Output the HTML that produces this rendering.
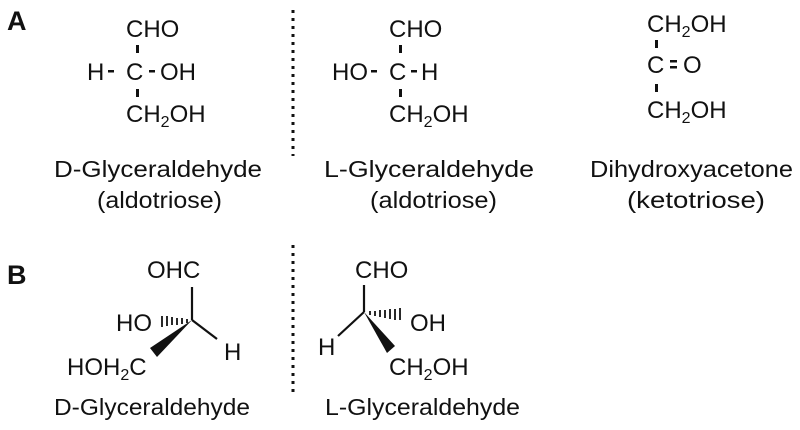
<!DOCTYPE html>
<html><head><style>html,body{margin:0;padding:0;background:#fff}svg{display:block}text{font-family:"Liberation Sans",sans-serif;fill:#111}</style></head>
<body>
<svg width="800" height="430" viewBox="0 0 800 430" xmlns="http://www.w3.org/2000/svg">
<g font-size="24">
<text x="7" y="30" font-weight="bold" font-size="27">A</text>
<text x="7" y="284" font-weight="bold" font-size="27">B</text>

<!-- D Fischer -->
<text x="126" y="37">CHO</text>
<text x="87" y="80">H</text>
<rect x="108" y="70" width="6" height="2.5" fill="#111"/>
<text x="126" y="80">C</text>
<rect x="149" y="70" width="6" height="2.5" fill="#111"/>
<text x="160" y="80">OH</text>
<rect x="136" y="45" width="3" height="8" fill="#111"/>
<rect x="136" y="89" width="3" height="8" fill="#111"/>
<text x="126" y="122">CH<tspan font-size="16" dy="5">2</tspan><tspan dy="-5">OH</tspan></text>
<text x="54" y="177" font-size="23" textLength="208" lengthAdjust="spacingAndGlyphs">D-Glyceraldehyde</text>
<text x="97" y="208" font-size="23" textLength="125" lengthAdjust="spacingAndGlyphs">(aldotriose)</text>

<line x1="293" y1="10" x2="293" y2="156" stroke="#111" stroke-width="3" stroke-dasharray="3,5"/>

<!-- L Fischer -->
<text x="389" y="37">CHO</text>
<text x="332" y="80">HO</text>
<rect x="371" y="70" width="6" height="2.5" fill="#111"/>
<text x="389" y="80">C</text>
<rect x="411" y="70" width="6" height="2.5" fill="#111"/>
<text x="421" y="80">H</text>
<rect x="399" y="45" width="3" height="8" fill="#111"/>
<rect x="399" y="89" width="3" height="8" fill="#111"/>
<text x="389" y="122">CH<tspan font-size="16" dy="5">2</tspan><tspan dy="-5">OH</tspan></text>
<text x="324" y="177" font-size="23" textLength="210" lengthAdjust="spacingAndGlyphs">L-Glyceraldehyde</text>
<text x="370" y="208" font-size="23" textLength="127" lengthAdjust="spacingAndGlyphs">(aldotriose)</text>

<!-- Dihydroxyacetone -->
<text x="647" y="32">CH<tspan font-size="16" dy="5">2</tspan><tspan dy="-5">OH</tspan></text>
<rect x="655" y="40" width="3" height="8" fill="#111"/>
<text x="647" y="73">C</text>
<rect x="670" y="60" width="7" height="2.5" fill="#111"/>
<rect x="670" y="66" width="7" height="2.5" fill="#111"/>
<text x="683" y="73">O</text>
<rect x="655" y="84" width="3" height="8" fill="#111"/>
<text x="647" y="118">CH<tspan font-size="16" dy="5">2</tspan><tspan dy="-5">OH</tspan></text>
<text x="590" y="177" font-size="23" textLength="203" lengthAdjust="spacingAndGlyphs">Dihydroxyacetone</text>
<text x="627" y="208" font-size="23" textLength="138" lengthAdjust="spacingAndGlyphs">(ketotriose)</text>

<line x1="293" y1="245" x2="293" y2="392" stroke="#111" stroke-width="3" stroke-dasharray="3,5"/>

<!-- D wedge -->
<text x="147" y="278">OHC</text>
<line x1="192" y1="287" x2="192" y2="320" stroke="#111" stroke-width="2.2"/>
<line x1="192" y1="320" x2="217" y2="339" stroke="#111" stroke-width="2.2"/>
<text x="224" y="360">H</text>
<g stroke="#111" stroke-width="1.8">
<line x1="187" y1="319" x2="187" y2="323"/><line x1="182" y1="318" x2="182" y2="324"/>
<line x1="177" y1="318" x2="177" y2="325"/><line x1="172" y1="317" x2="172" y2="325"/>
<line x1="167" y1="316" x2="167" y2="326"/><line x1="162" y1="316" x2="162" y2="327"/>
</g>
<text x="116" y="331">HO</text>
<polygon points="192,320 150,348 157,357" fill="#111"/>
<text x="67" y="375">HOH<tspan font-size="16" dy="5">2</tspan><tspan dy="-5">C</tspan></text>
<text x="54" y="415" font-size="23" textLength="196" lengthAdjust="spacingAndGlyphs">D-Glyceraldehyde</text>

<!-- L wedge -->
<text x="355" y="278">CHO</text>
<line x1="364" y1="285" x2="364" y2="312" stroke="#111" stroke-width="2.2"/>
<line x1="364" y1="312" x2="338" y2="336" stroke="#111" stroke-width="2.2"/>
<text x="318" y="355">H</text>
<g stroke="#111" stroke-width="1.8">
<line x1="370" y1="311" x2="370" y2="315"/><line x1="375" y1="311" x2="375" y2="316"/>
<line x1="380" y1="310" x2="380" y2="317"/><line x1="385" y1="310" x2="385" y2="318"/>
<line x1="390" y1="309" x2="390" y2="319"/><line x1="395" y1="309" x2="395" y2="320"/>
<line x1="400" y1="308" x2="400" y2="320"/>
</g>
<text x="410" y="331">OH</text>
<polygon points="364,312 387,353 395,346" fill="#111"/>
<text x="389" y="375">CH<tspan font-size="16" dy="5">2</tspan><tspan dy="-5">OH</tspan></text>
<text x="325" y="415" font-size="23" textLength="195" lengthAdjust="spacingAndGlyphs">L-Glyceraldehyde</text>
</g>
</svg>
</body></html>
